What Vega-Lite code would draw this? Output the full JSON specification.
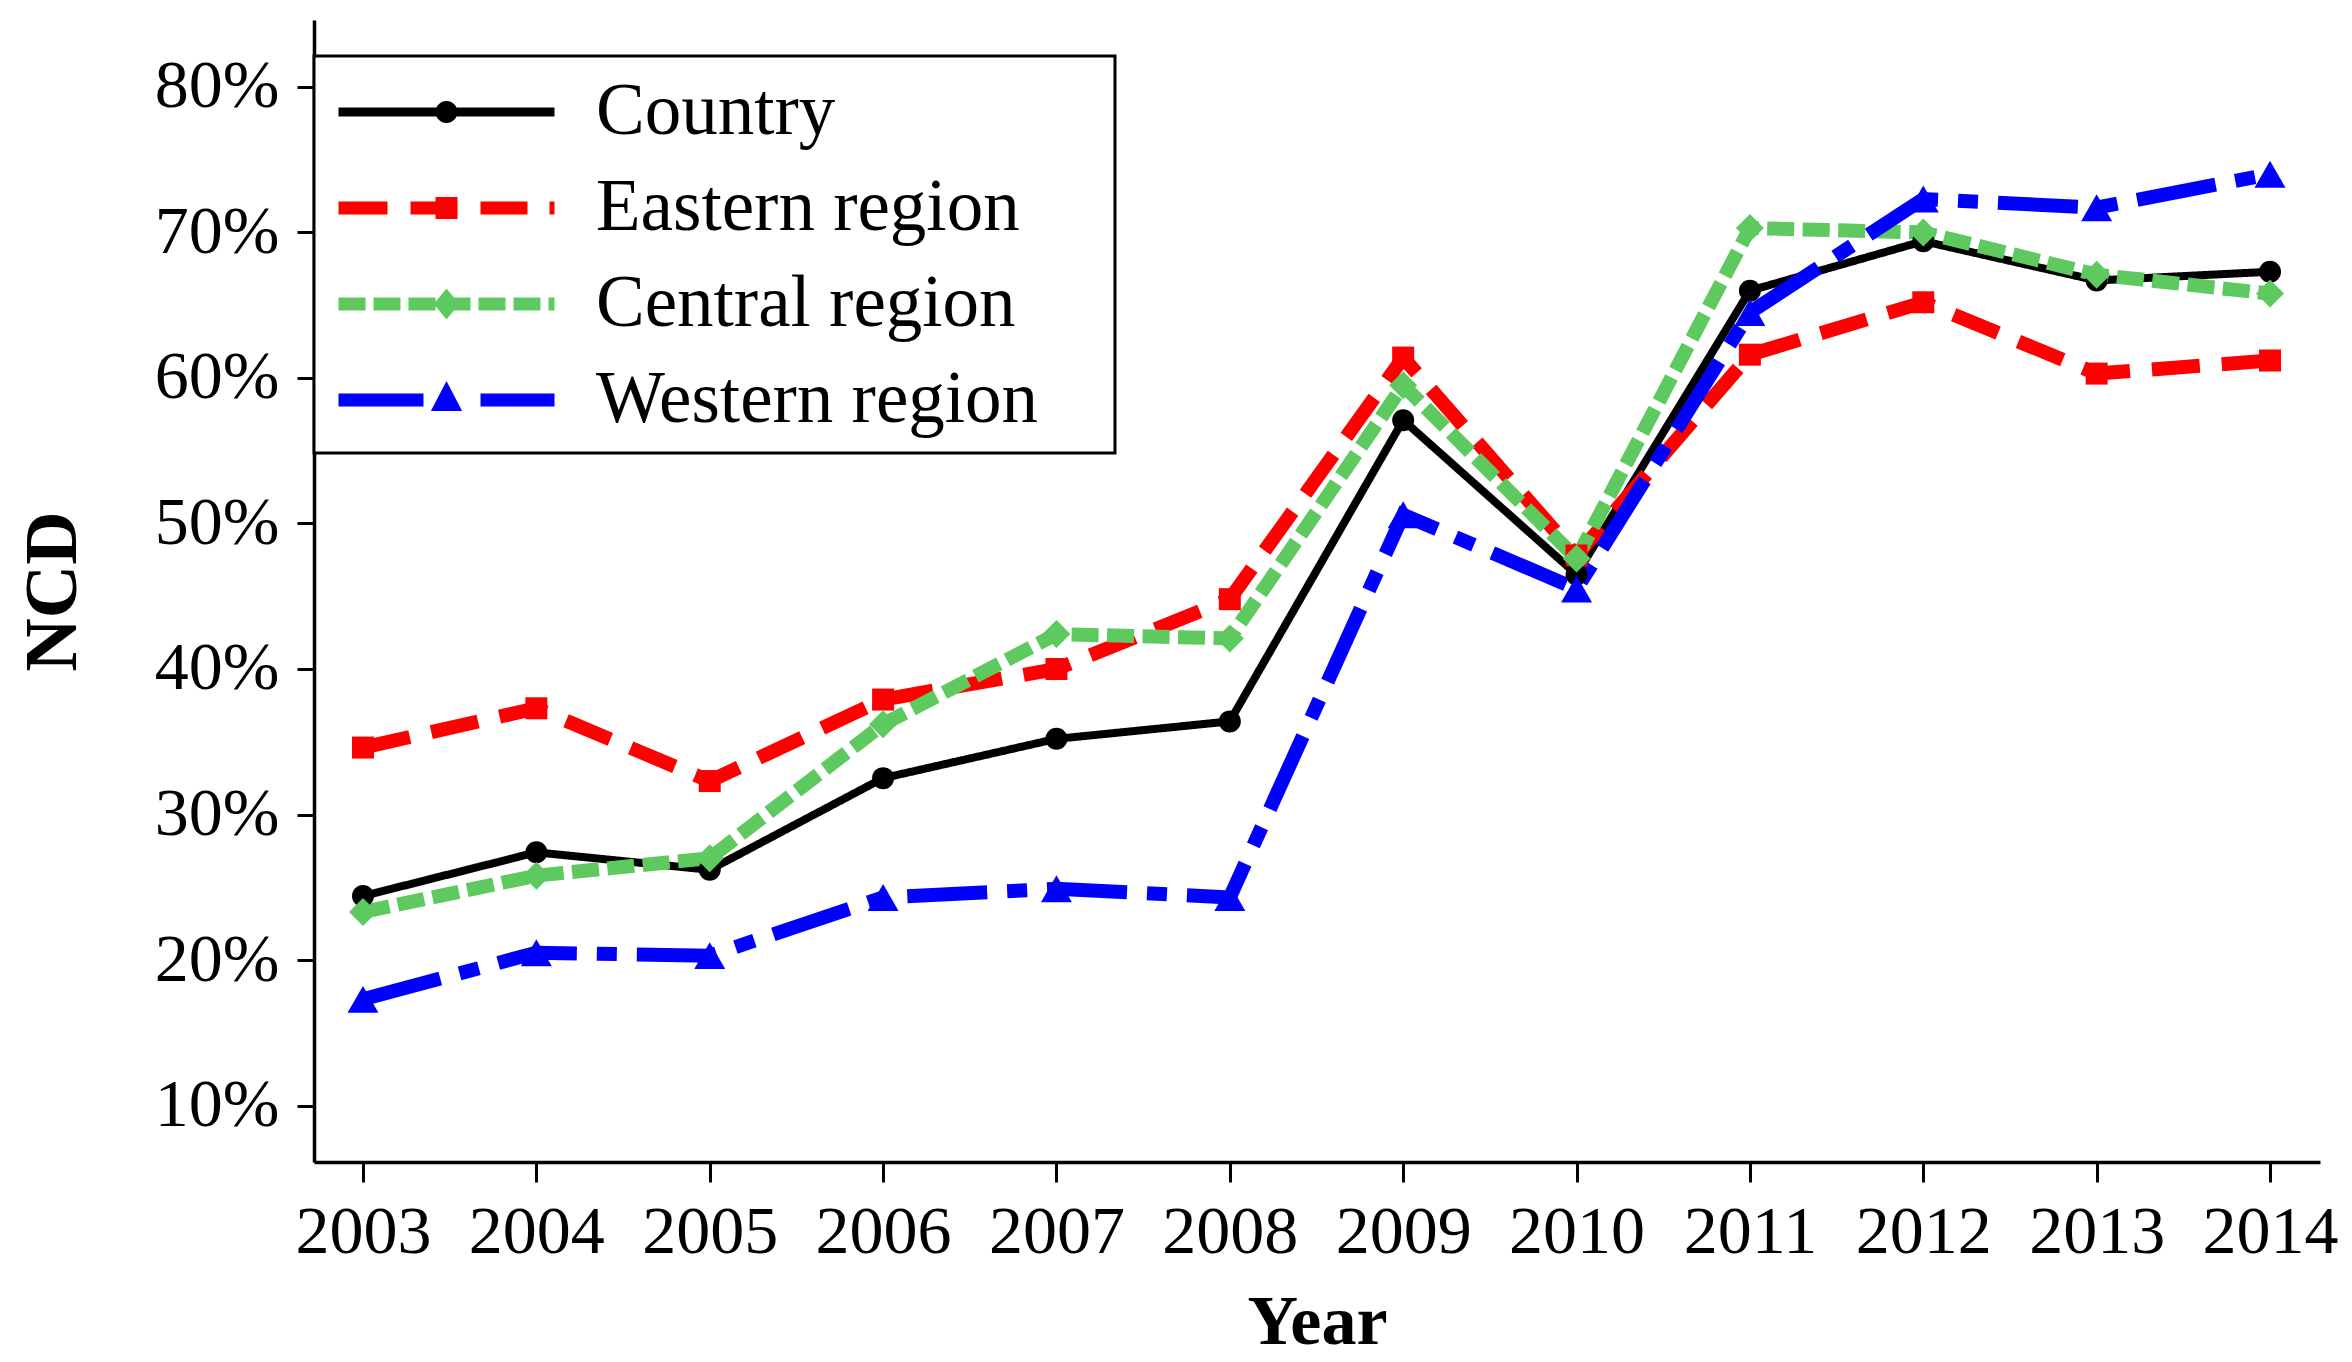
{
  "$schema": "https://vega.github.io/schema/vega-lite/v6.json",
  "width": 2006,
  "height": 1142,
  "autosize": "none",
  "padding": {"left": 314, "top": 20, "right": 32, "bottom": 200},
  "background": "white",
  "config": {
    "view": {"stroke": null},
    "font": "Liberation Serif",
    "axis": {
      "grid": false,
      "domainColor": "black",
      "domainWidth": 3.5,
      "tickColor": "black",
      "tickWidth": 3,
      "labelFont": "Liberation Serif",
      "labelColor": "black",
      "labelFontSize": 68,
      "titleFont": "Liberation Serif",
      "titleFontWeight": "bold",
      "titleColor": "black"
    }
  },
  "data": {
    "values": [
      {"year": 2003, "series": "Country", "value": 0.244},
      {"year": 2004, "series": "Country", "value": 0.274},
      {"year": 2005, "series": "Country", "value": 0.262},
      {"year": 2006, "series": "Country", "value": 0.325},
      {"year": 2007, "series": "Country", "value": 0.352},
      {"year": 2008, "series": "Country", "value": 0.364},
      {"year": 2009, "series": "Country", "value": 0.571},
      {"year": 2010, "series": "Country", "value": 0.465},
      {"year": 2011, "series": "Country", "value": 0.660},
      {"year": 2012, "series": "Country", "value": 0.694},
      {"year": 2013, "series": "Country", "value": 0.667},
      {"year": 2014, "series": "Country", "value": 0.673},
      {"year": 2003, "series": "Eastern region", "value": 0.346},
      {"year": 2004, "series": "Eastern region", "value": 0.373},
      {"year": 2005, "series": "Eastern region", "value": 0.323},
      {"year": 2006, "series": "Eastern region", "value": 0.379},
      {"year": 2007, "series": "Eastern region", "value": 0.400},
      {"year": 2008, "series": "Eastern region", "value": 0.448},
      {"year": 2009, "series": "Eastern region", "value": 0.614},
      {"year": 2010, "series": "Eastern region", "value": 0.478},
      {"year": 2011, "series": "Eastern region", "value": 0.616},
      {"year": 2012, "series": "Eastern region", "value": 0.652},
      {"year": 2013, "series": "Eastern region", "value": 0.603},
      {"year": 2014, "series": "Eastern region", "value": 0.612},
      {"year": 2003, "series": "Central region", "value": 0.233},
      {"year": 2004, "series": "Central region", "value": 0.258},
      {"year": 2005, "series": "Central region", "value": 0.270},
      {"year": 2006, "series": "Central region", "value": 0.362},
      {"year": 2007, "series": "Central region", "value": 0.424},
      {"year": 2008, "series": "Central region", "value": 0.421},
      {"year": 2009, "series": "Central region", "value": 0.595},
      {"year": 2010, "series": "Central region", "value": 0.476},
      {"year": 2011, "series": "Central region", "value": 0.703},
      {"year": 2012, "series": "Central region", "value": 0.700},
      {"year": 2013, "series": "Central region", "value": 0.671},
      {"year": 2014, "series": "Central region", "value": 0.658},
      {"year": 2003, "series": "Western region", "value": 0.173},
      {"year": 2004, "series": "Western region", "value": 0.205},
      {"year": 2005, "series": "Western region", "value": 0.203},
      {"year": 2006, "series": "Western region", "value": 0.243},
      {"year": 2007, "series": "Western region", "value": 0.249},
      {"year": 2008, "series": "Western region", "value": 0.243},
      {"year": 2009, "series": "Western region", "value": 0.506},
      {"year": 2010, "series": "Western region", "value": 0.455},
      {"year": 2011, "series": "Western region", "value": 0.645},
      {"year": 2012, "series": "Western region", "value": 0.723},
      {"year": 2013, "series": "Western region", "value": 0.717},
      {"year": 2014, "series": "Western region", "value": 0.740}
    ]
  },
  "encoding": {
    "x": {
      "field": "year",
      "type": "quantitative",
      "scale": {"domain": [2002.7174, 2014.2884], "nice": false, "zero": false},
      "axis": {
        "title": "Year",
        "values": [2003, 2004, 2005, 2006, 2007, 2008, 2009, 2010, 2011, 2012, 2013, 2014],
        "format": "d",
        "tickSize": 20,
        "labelPadding": 70,
        "labelBaseline": "alphabetic",
        "labelFlush": false,
        "labelOverlap": false,
        "titleFontSize": 70,
        "titleBaseline": "alphabetic",
        "titleY": 181,
        "titleX": 1003
      }
    },
    "y": {
      "field": "value",
      "type": "quantitative",
      "scale": {"domain": [0.0612, 0.846], "nice": false, "zero": false},
      "axis": {
        "title": "NCD",
        "values": [0.1, 0.2, 0.3, 0.4, 0.5, 0.6, 0.7, 0.8],
        "format": ".0%",
        "tickSize": 17,
        "labelPadding": 18,
        "labelFlush": false,
        "labelOverlap": false,
        "titleFontSize": 74,
        "titleAngle": 270,
        "titleBaseline": "alphabetic",
        "titleAlign": "center",
        "titleX": -239,
        "titleY": 571
      }
    }
  },
  "layer": [
    {
      "mark": {"type": "line", "strokeCap": "butt", "strokeJoin": "miter"},
      "encoding": {
        "stroke": {
          "field": "series",
          "type": "nominal",
          "scale": {
            "domain": ["Country", "Eastern region", "Central region", "Western region"],
            "range": ["#000000", "#FF0000", "#5EC95E", "#0000FF"]
          },
          "legend": {
            "title": null,
            "orient": "none",
            "legendX": 0,
            "legendY": 36,
            "strokeColor": "black",
            "fillColor": "white",
            "padding": 16,
            "symbolOffset": 76.5,
            "symbolStrokeWidth": 0,
            "labelFont": "Liberation Serif",
            "labelFontSize": 73,
            "labelColor": "black",
            "labelOffset": 109.5,
            "rowPadding": 19,
            "labelLimit": 0,
            "labelExpr": "datum.label + '\u00a0\u00a0\u00a0\u200a\u200b'",
            "encode": {
              "legend": {"update": {"strokeWidth": {"value": 3}}},
              "symbols": {
                "update": {
                  "shape": {"signal": "datum.value === 'Country' ? 'M-2.7,-0.11H2.7V0.11H-2.7Z M-0.275,0A0.275,0.275,0,1,1,0.275,0A0.275,0.275,0,1,1,-0.275,0Z' : datum.value === 'Eastern region' ? 'M-2.7,-0.1625H-1.475V0.1625H-2.7Z M-0.9,-0.1625H0.275V0.1625H-0.9Z M-0.275,-0.275H0.275V0.275H-0.275Z M0.85,-0.1625H2.025V0.1625H0.85Z M2.575,-0.1625H2.7V0.1625H2.575Z' : datum.value === 'Central region' ? 'M-2.7,-0.1625H-2.025V0.1625H-2.7Z M-1.825,-0.1625H-1.15V0.1625H-1.825Z M-0.95,-0.1625H-0.275V0.1625H-0.95Z M-0.075,-0.1625H0.6V0.1625H-0.075Z M0.8,-0.1625H1.475V0.1625H0.8Z M1.675,-0.1625H2.35V0.1625H1.675Z M2.55,-0.1625H2.7V0.1625H2.55Z M0,-0.39L0.32,0L0,0.39L-0.32,0Z' : 'M-2.7,-0.1625H-0.575V0.1625H-2.7Z M0,-0.475L0.39,0.275H-0.39Z M0.85,-0.1625H2.7V0.1625H0.85Z'"},
                  "size": {"value": 6400},
                  "fill": {"signal": "datum.value === 'Country' ? '#000000' : datum.value === 'Eastern region' ? '#FF0000' : datum.value === 'Central region' ? '#5EC95E' : '#0000FF'"},
                  "strokeWidth": {"value": 0},
                  "opacity": {"value": 1},
                  "fillOpacity": {"value": 1}
                }
              }
            }
          }
        },
        "strokeWidth": {
          "field": "series",
          "type": "nominal",
          "scale": {
            "type": "ordinal",
            "domain": ["Central region", "Country", "Eastern region", "Western region"],
            "range": [14, 8, 14, 14]
          },
          "legend": null
        },
        "strokeDash": {
          "field": "series",
          "type": "nominal",
          "scale": {
            "domain": ["Central region", "Country", "Eastern region", "Western region"],
            "range": [[27, 8.5], [1, 0], [48, 22], [80, 20, 20, 20]]
          },
          "legend": null
        }
      }
    },
    {
      "mark": {"type": "point", "filled": true, "opacity": 1, "strokeWidth": 0},
      "encoding": {
        "fill": {
          "field": "series",
          "type": "nominal",
          "scale": {
            "domain": ["Central region", "Country", "Eastern region", "Western region"],
            "range": ["#5EC95E", "#000000", "#FF0000", "#0000FF"]
          },
          "legend": null
        },
        "shape": {
          "field": "series",
          "type": "nominal",
          "scale": {
            "domain": ["Central region", "Country", "Eastern region", "Western region"],
            "range": ["diamond", "circle", "square", "triangle-up"]
          },
          "legend": null
        },
        "size": {
          "field": "series",
          "type": "nominal",
          "scale": {
            "type": "ordinal",
            "domain": ["Central region", "Country", "Eastern region", "Western region"],
            "range": [784, 484, 484, 961]
          },
          "legend": null
        }
      }
    }
  ]
}
